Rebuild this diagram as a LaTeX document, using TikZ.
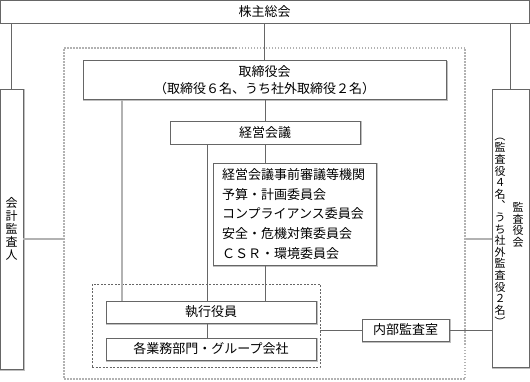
\documentclass[tikz,border=0pt]{standalone}
\usepackage{fontspec}
\setmainfont{Noto Sans CJK JP}
\begin{document}
\begin{tikzpicture}[x=1pt,y=-1pt,
  box/.style={draw=black!60,fill=white,line width=0.7pt,inner sep=0pt,align=center,font=\fontsize{13}{17}\selectfont,
    preaction={draw=black!25,line width=1.2pt,transform canvas={shift={(0.9pt,-0.9pt)}}}},
  link/.style={draw=black!60,line width=0.7pt},
  glink/.style={draw=black!30,line width=1.6pt},
  tate/.style={inner sep=0pt,align=center,font=\fontsize{11}{11.6}\selectfont}]
\useasboundingbox (0,0) rectangle (530,382);
\node[draw=black!30,line width=1.5pt,dash pattern=on 1.5pt off 1.5pt,minimum width=401,minimum height=331] (waku) at (264.5,213.5) {};
\node[draw=black!60,line width=0.6pt,dash pattern=on 2pt off 1.5pt,minimum width=228,minimum height=83] (gyomu) at (206,325.5) {};
\node[box,minimum width=529,minimum height=23] (kabu) at (264.5,11.5) {株主総会};
\node[box,minimum width=363,minimum height=39] (tori) at (264.5,80) {取締役会\\（取締役６名、うち社外取締役２名）};
\node[box,minimum width=190,minimum height=23] (keiei) at (265,132.5) {経営会議};
\node[box,align=left,text width=145pt,inner xsep=9pt,minimum height=102,font=\fontsize{13}{19.7}\selectfont] (iinkai) at (294.5,214) {経営会議事前審議等機関\\予算・計画委員会\\コンプライアンス委員会\\安全・危機対策委員会\\ＣＳＲ・環境委員会};
\node[box,minimum width=210,minimum height=22] (shikko) at (211,312) {執行役員};
\node[box,minimum width=210,minimum height=22] (kaku) at (211,349) {各業務部門・グループ会社};
\node[box,minimum width=87,minimum height=22] (naibu) at (405.5,330) {内部監査室};
\node[box,minimum width=23,minimum height=280,font=\fontsize{12}{13}\selectfont] (kaikei) at (11.5,229) {会\\計\\監\\査\\人};
\node[box,minimum width=37,minimum height=278] (kansa) at (510.5,228) {};
\node[tate] (kansa-kai) at (518,225) {監\\査\\役\\会};
\node[tate] (kansa-mei) at (500,229) {\rotatebox[origin=c]{-90}{（}\\監\\査\\役\\４\\名\\︑\\う\\ち\\社\\外\\監\\査\\役\\２\\名\\\rotatebox[origin=c]{-90}{）}};
\draw[link] (kaikei.north) -- (kaikei.north |- kabu.south);
\draw[link] (kansa.north) -- (kansa.north |- kabu.south);
\draw[link] (kabu.south) -- (tori.north);
\draw[link] (keiei.north |- tori.south) -- (keiei.north);
\draw[link] (keiei.south) -- (keiei.south |- iinkai.north);
\draw[link] (keiei.south |- iinkai.south) -- (keiei.south |- shikko.north);
\draw[link] ([xshift=-4pt]shikko.north |- keiei.south) -- ([xshift=-4pt]shikko.north);
\draw[link] ([xshift=-4pt]shikko.south) -- ([xshift=-4pt]kaku.north);
\draw[glink] ([xshift=-89pt]shikko.north |- tori.south) -- ([xshift=-89pt]shikko.north);
\draw[glink] ([yshift=-10pt]kaikei.east) -- ([yshift=-10pt]kaikei.east -| waku.west);
\draw[glink] ([yshift=-11pt]kansa.west) -- ([yshift=-11pt]kansa.west -| waku.east);
\draw[link] (gyomu.east |- naibu.west) -- (naibu.west);
\draw[link] (naibu.east) -- (naibu.east -| kansa.west);
\end{tikzpicture}
\end{document}
